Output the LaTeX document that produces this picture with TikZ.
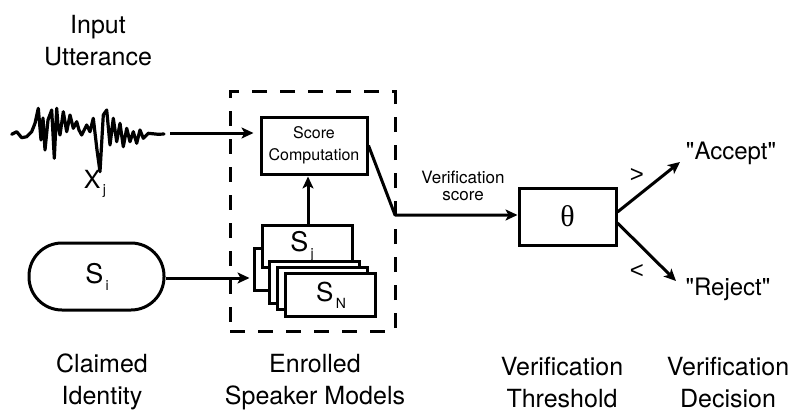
\documentclass[tikz,border=0pt]{standalone}
\usepackage{fontspec}
\setmainfont{TeX Gyre Heros}
\newfontfamily\qfont{TeX Gyre Heros}
\newfontfamily\cmpfont{Liberation Sans}
\newfontfamily\thetafont{Liberation Serif}
\usetikzlibrary{arrows.meta}
\newcommand\mysub[1]{\raisebox{-0.5ex}{\fontsize{14}{14}\selectfont\,#1}}
\begin{document}
\begin{tikzpicture}[x=1pt,y=-1pt,
  line width=3pt,
  box/.style={draw, fill=white, inner sep=0pt, line width=3pt},
  stackbox/.style={box, minimum width=90pt, minimum height=42pt},
  arr/.style={-{Stealth[length=12pt,width=11pt,inset=3pt]}, line width=3pt},
  biglabel/.style={align=center, font=\fontsize{25}{32}\selectfont, inner sep=0pt},
  slabel/.style={inner sep=0pt, font=\fontsize{27}{27}\selectfont},
]
\useasboundingbox (0,0) rectangle (801,412);

% enrolled models dashed frame
\node[draw, dash pattern=on 15pt off 13pt, line width=3pt, minimum width=165pt, minimum height=239pt, inner sep=0pt] (enrolled) at (312.5,211.5) {};

% waveform
\draw[line width=3.2pt, line join=round, line cap=round]
 (11.7,134.3) -- (16.7,131.7) -- (21.7,137.7) -- (26.7,136.7) -- (31.7,131.7)
 -- (35,123.3) -- (38.3,108.3) -- (41,140) -- (43,118) -- (45,150) -- (48,120) -- (51.7,110) -- (54.3,158.3)
 -- (56.7,108.3) -- (58,125) -- (60,135) -- (63.3,111.7) -- (66.7,131.7) -- (70,115)
 -- (73.3,128.3) -- (76.7,121.7) -- (79,130) -- (81.7,135) -- (86.7,125) -- (90,131.7)
 -- (93.3,118.3) -- (97,150) -- (100,171.7) -- (103.3,115) -- (106.7,110) -- (110,145)
 -- (113.3,118.3) -- (116.7,141.7) -- (120,123.3) -- (123.3,146.7) -- (126.7,128.3)
 -- (130,141.7) -- (133.3,131.7) -- (136.7,143.3) -- (140,130) -- (143.3,138.3)
 -- (148.3,133.3) -- (158.3,134.3) -- (164,134);
\coordinate (wend) at (170,133);
\node[inner sep=0pt, font=\fontsize{25}{25}\selectfont] (xj) at (95,184) {X\mysub{j}};

% score computation
\node[box, minimum width=106pt, minimum height=57pt, align=center, font=\fontsize{16}{22}\selectfont] (score) at (314,145.5) {Score\\Computation};

% speaker model stack
\node[stackbox] (back) at (299,269) {};
\node[stackbox] (sj) at (307,246) {};
\node[slabel] (sjl) at (302,246) {S\mysub{j}};
\node[stackbox] (b3) at (314,282) {};
\node[stackbox] (b4) at (322,288) {};
\node[stackbox, minimum height=43pt] (sn) at (330.5,294.5) {};
\node[slabel, font=\fontsize{26}{26}\selectfont] (snl) at (331,295) {S\mysub{N}};

% claimed identity
\node[box, rounded corners=33pt, minimum width=135pt, minimum height=67pt] (claim) at (96.5,276.5) {};
\node[slabel] (claiml) at (97,277) {S\mysub{i}};

% threshold
\node[box, minimum width=97pt, minimum height=57pt, font=\thetafont\fontsize{30}{30}\selectfont] (theta) at (567.5,216.5) {θ};

% connectors
\draw[arr, shorten >=6pt] (wend) -- (wend -| score.west);
\draw[arr, shorten >=1pt] (sj.north -| 308,0) -- (308,0 |- score.south);
\draw[arr, shorten >=3pt] (claim.east |- 0,278) -- (back.west |- 0,278);
\coordinate (vbend) at (395,215);
\draw[arr, line join=round] (score.east) -- (vbend) -- (vbend -| theta.west);
\node[align=center, inner sep=0pt, font=\fontsize{17}{17.5}\selectfont] (vs) at (463,186) {Verification\\score};

\coordinate (acc) at (680,162);
\coordinate (rej) at (676,281);
\draw[arr] ([yshift=4.5pt]theta.east) -- (acc);
\draw[arr] ([yshift=-6.5pt]theta.east) -- (rej);
\node[inner sep=0pt, font=\cmpfont\fontsize{24}{24}\selectfont] (gt) at (637,176) {>};
\node[inner sep=0pt, font=\cmpfont\fontsize{24}{24}\selectfont] (lt) at (637,272) {<};
\node[inner sep=0pt, font=\qfont\fontsize{24}{24}\selectfont] (accept) at (731,153) {"Accept"};
\node[inner sep=0pt, font=\qfont\fontsize{24}{24}\selectfont] (reject) at (728,289) {"Reject"};

% captions
\node[biglabel] (inp) at (98,41) {Input\\Utterance};
\node[biglabel] (cid) at (102,382) {Claimed\\Identity};
\node[biglabel] (esm) at (315,382) {Enrolled\\Speaker Models};
\node[biglabel] (vth) at (562,383) {Verification\\Threshold};
\node[biglabel] (vde) at (728,383) {Verification\\Decision};
\end{tikzpicture}
\end{document}
